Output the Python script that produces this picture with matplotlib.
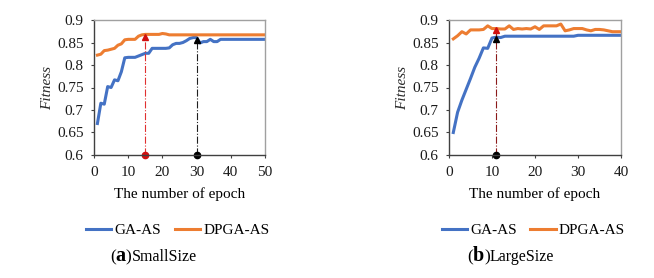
import matplotlib
matplotlib.use("Agg")
from matplotlib import pyplot as plt

plt.rcParams['font.family'] = ['Liberation Serif', 'DejaVu Serif']

# Data: (a) SmallSize
small_epochs = list(range(1, 51))
small_ga = [0.670, 0.715, 0.713, 0.752, 0.750, 0.767, 0.765, 0.785, 0.816, 0.817,
            0.817, 0.817, 0.820, 0.823, 0.826, 0.826, 0.837, 0.837, 0.837, 0.837,
            0.837, 0.838, 0.845, 0.848, 0.848, 0.850, 0.854, 0.859, 0.861, 0.861,
            0.849, 0.852, 0.852, 0.857, 0.852, 0.852, 0.857, 0.857, 0.857, 0.857,
            0.857, 0.857, 0.857, 0.857, 0.857, 0.857, 0.857, 0.857, 0.857, 0.857]
small_dpga = [0.822, 0.824, 0.832, 0.833, 0.835, 0.837, 0.844, 0.847, 0.856, 0.857,
              0.857, 0.857, 0.864, 0.867, 0.868, 0.868, 0.868, 0.868, 0.868, 0.870,
              0.869, 0.867, 0.867, 0.867, 0.867, 0.867, 0.867, 0.867, 0.867, 0.867,
              0.867, 0.867, 0.867, 0.867, 0.867, 0.867, 0.867, 0.867, 0.867, 0.867,
              0.867, 0.867, 0.867, 0.867, 0.867, 0.867, 0.867, 0.867, 0.867, 0.867]

# Data: (b) LargeSize
large_epochs = list(range(1, 41))
large_ga = [0.650, 0.695, 0.722, 0.746, 0.770, 0.795, 0.815, 0.838, 0.837, 0.860,
            0.862, 0.861, 0.864, 0.864, 0.864, 0.864, 0.864, 0.864, 0.864, 0.864,
            0.864, 0.864, 0.864, 0.864, 0.864, 0.864, 0.864, 0.864, 0.864, 0.866,
            0.866, 0.866, 0.866, 0.866, 0.866, 0.866, 0.866, 0.866, 0.866, 0.866]
large_dpga = [0.858, 0.865, 0.874, 0.869, 0.878, 0.878, 0.878, 0.879, 0.887, 0.881,
              0.881, 0.880, 0.880, 0.887, 0.879, 0.881, 0.880, 0.881, 0.880, 0.885,
              0.879, 0.887, 0.887, 0.887, 0.887, 0.891, 0.876, 0.878, 0.881, 0.881,
              0.881, 0.878, 0.876, 0.879, 0.879, 0.878, 0.876, 0.874, 0.874, 0.874]

y_ticks = [0.6, 0.65, 0.7, 0.75, 0.8, 0.85, 0.9]
y_labels = ['0.6', '0.65', '0.7', '0.75', '0.8', '0.85', '0.9']

BLUE = '#4472C4'
ORANGE = '#ED7D31'

fig = plt.figure(figsize=(6.54, 2.78), dpi=100)
ax1 = fig.add_axes([94/654, 123/278, 171/654, 135/278])
ax2 = fig.add_axes([449/654, 123/278, 172/654, 135/278])


def style(ax, xmax, xstep):
    ax.set_xlim(0, xmax)
    ax.set_ylim(0.6, 0.9)
    ax.set_xticks(range(0, xmax + 1, xstep))
    ax.set_yticks(y_ticks)
    ax.set_yticklabels(y_labels)
    ax.tick_params(labelsize=11, direction='out', length=2.5, width=0.8, colors='#404040',
                   labelcolor='#1a1a1a')
    ax.tick_params(axis='x', pad=5.5)
    ax.tick_params(axis='y', pad=5)
    for s in ['top', 'right']:
        ax.spines[s].set_color('#a0a0a0')
        ax.spines[s].set_linewidth(1.0)
    for s in ['left', 'bottom']:
        ax.spines[s].set_color('#404040')
        ax.spines[s].set_linewidth(1.0)
    ax.set_xlabel('The number of epoch', fontsize=11, labelpad=6)
    ax.set_ylabel('Fitness', fontsize=11, style='italic', labelpad=2, color='#2a2a2a')


# (a)
ax1.plot(small_epochs, small_ga, color=BLUE, lw=2.2, label='GA-AS')
ax1.plot(small_epochs, small_dpga, color=ORANGE, lw=2.2, label='DPGA-AS')
ax1.plot([15, 15], [0.6, 0.867], color='#e03030', lw=0.8, ls='-.')
ax1.plot([15], [0.862], marker='^', color='#d01010', ms=4)
ax1.plot([15], [0.6], marker='o', color='#d01010', ms=4.5, clip_on=False)
ax1.plot([30, 30], [0.6, 0.859], color='#202020', lw=0.8, ls='-.')
ax1.plot([30], [0.855], marker='^', color='black', ms=4)
ax1.plot([30], [0.6], marker='o', color='black', ms=4.5, clip_on=False)
style(ax1, 50, 10)

# (b)
ax2.plot(large_epochs, large_ga, color=BLUE, lw=2.2, label='GA-AS')
ax2.plot(large_epochs, large_dpga, color=ORANGE, lw=2.2, label='DPGA-AS')
ax2.plot([11, 11], [0.6, 0.882], color='#8b1a1a', lw=0.8, ls='-.')
ax2.plot([11], [0.878], marker='^', color='#d01010', ms=4)
ax2.plot([11], [0.857], marker='^', color='black', ms=4)
ax2.plot([11], [0.6], marker='o', color='black', ms=4.5, clip_on=False)
style(ax2, 40, 10)

for ax in (ax1, ax2):
    ax.legend(loc='center', bbox_to_anchor=(0.49, -0.56), ncol=2, frameon=False,
              fontsize=11, handlelength=1.65, handletextpad=0.2, columnspacing=0.9,
              borderaxespad=0)


def caption(x, letter, name):
    t1 = fig.text(x / 654, 1 - 261 / 278, '(', fontsize=12.5, va='baseline')
    t2 = fig.text(0, 0, letter, fontsize=14.5, fontweight='bold', va='baseline')
    t3 = fig.text(0, 0, ')', fontsize=12.5, va='baseline')
    t4 = fig.text(0, 0, name, fontsize=11.5, va='baseline')
    fig.canvas.draw()
    r = fig.canvas.get_renderer()
    inv = fig.transFigure.inverted()
    y = t1.get_position()[1]
    prev = t1
    for t in (t2, t3, t4):
        bb = prev.get_window_extent(r)
        xf = inv.transform((bb.x1, 0))[0]
        t.set_position((xf, y))
        prev = t


caption(110, 'a', 'SmallSize')
caption(467, 'b', 'LargeSize')

fig.savefig('out.png', dpi=100)
